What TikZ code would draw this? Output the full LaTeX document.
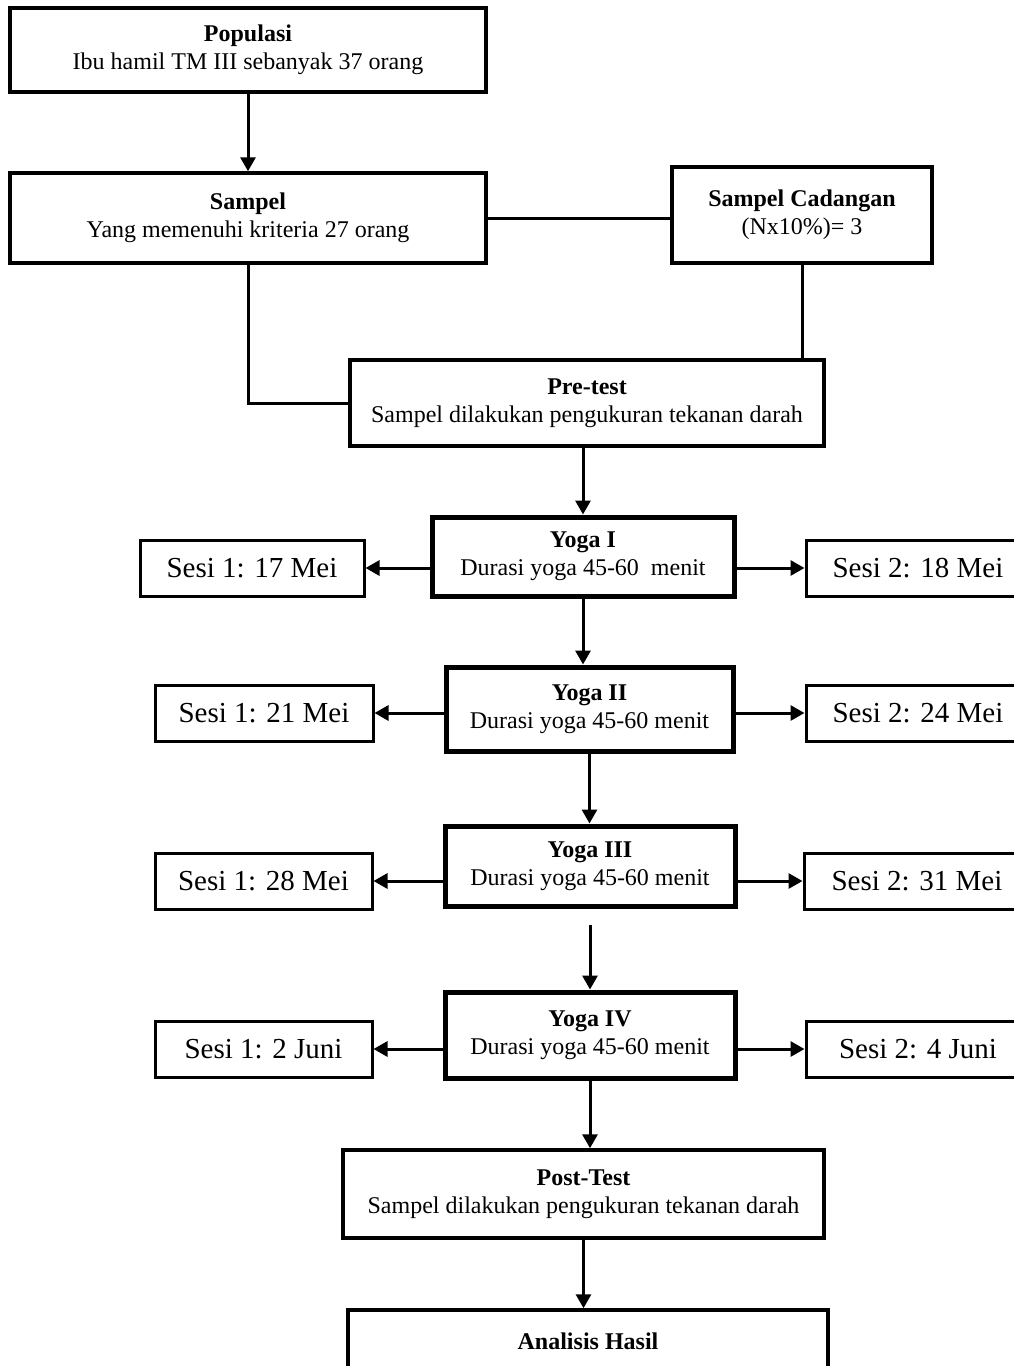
\documentclass[tikz,border=0pt]{standalone}
\usepackage{fontspec}
\setmainfont{Liberation Serif}
\usetikzlibrary{arrows.meta}
\newcommand{\bodyfs}{\fontsize{24}{28}\selectfont}
\newcommand{\sesifs}{\fontsize{29}{33}\selectfont}
\tikzset{
  box/.style={draw, line width=3.5pt, align=center, inner sep=0pt, font=\bodyfs},
  yogabox/.style={box, line width=5pt},
  sesibox/.style={draw, line width=3pt, align=center, inner sep=0pt, font=\sesifs, minimum height=56pt},
  conn/.style={line width=3pt},
  arr/.style={line width=3pt, -{Triangle[width=15pt,length=14pt]}},
}
\begin{document}
\begin{tikzpicture}[x=1pt,y=-1pt]
\useasboundingbox (0,0) rectangle (1014,1366);
\fill[white] (0,0) rectangle (1014,1366);
% main boxes
\node[box, minimum width=476pt, minimum height=84pt] (pop) at (248,50) {\textbf{Populasi}\\Ibu hamil TM III sebanyak 37 orang};
\node[box, minimum width=476pt, minimum height=90pt] (samp) at (248,218) {\textbf{Sampel}\\Yang memenuhi kriteria 27 orang};
\node[box, minimum width=260pt, minimum height=96pt] (cad) at (802,215) {\textbf{Sampel Cadangan}\\(Nx10\%)= 3};
\node[box, minimum width=474pt, minimum height=86pt] (pre) at (587,403) {\textbf{Pre-test}\\Sampel dilakukan pengukuran tekanan darah};
\node[yogabox, minimum width=302pt, minimum height=79pt] (y1) at (583,556.5) {\textbf{Yoga I}\\Durasi yoga 45-60~ menit};
\node[yogabox, minimum width=287pt, minimum height=84pt] (y2) at (589.5,709) {\textbf{Yoga II}\\Durasi yoga 45-60 menit};
\node[yogabox, minimum width=290pt, minimum height=80pt] (y3) at (590,866) {\textbf{Yoga III}\\Durasi yoga 45-60 menit};
\node[yogabox, minimum width=290pt, minimum height=86pt] (y4) at (590,1035) {\textbf{Yoga IV}\\Durasi yoga 45-60 menit};
\node[box, minimum width=481pt, minimum height=88pt] (post) at (583.5,1194) {\textbf{Post-Test}\\Sampel dilakukan pengukuran tekanan darah};
\node[box, minimum width=480pt, minimum height=90pt] (ana) at (588,1355) {\textbf{Analisis Hasil}\\\phantom{X}};
% session boxes
\node[sesibox, minimum width=224pt] (s11) at (252,568) {Sesi 1: 17 Mei};
\node[sesibox, minimum width=224pt] (s12) at (918,568) {Sesi 2: 18 Mei};
\node[sesibox, minimum width=218pt] (s21) at (264,713) {Sesi 1: 21 Mei};
\node[sesibox, minimum width=224pt] (s22) at (918,713) {Sesi 2: 24 Mei};
\node[sesibox, minimum width=217pt] (s31) at (263.5,881) {Sesi 1: 28 Mei};
\node[sesibox, minimum width=226pt] (s32) at (917,881) {Sesi 2: 31 Mei};
\node[sesibox, minimum width=217pt] (s41) at (263.5,1049) {Sesi 1: 2 Juni};
\node[sesibox, minimum width=224pt] (s42) at (918,1049) {Sesi 2: 4 Juni};
% connectors
\draw[arr] (pop.south) -- (samp.north);
\draw[conn] (samp.east) -- (samp.east -| cad.west);
\draw[conn] (samp.south) -- (samp.south |- pre.west) -- (pre.west);
\draw[conn] (cad.south) -- (cad.south |- pre.north);
\draw[arr] (pre.south -| y1.north) -- (y1.north);
\draw[arr] (y1.west |- s11.east) -- (s11.east);
\draw[arr] (y1.east |- s12.west) -- (s12.west);
\draw[arr] (y1.south) -- (y1.south |- y2.north);
\draw[arr] (y2.west |- s21.east) -- (s21.east);
\draw[arr] (y2.east |- s22.west) -- (s22.west);
\draw[arr] (y2.south) -- (y2.south |- y3.north);
\draw[arr] (y3.west |- s31.east) -- (s31.east);
\draw[arr] (y3.east |- s32.west) -- (s32.west);
\draw[arr, shorten <=16pt] (y3.south) -- (y4.north);
\draw[arr] (y4.west |- s41.east) -- (s41.east);
\draw[arr] (y4.east |- s42.west) -- (s42.west);
\draw[arr] (y4.south) -- (y4.south |- post.north);
\draw[arr] (post.south) -- (post.south |- ana.north);
\end{tikzpicture}
\end{document}
